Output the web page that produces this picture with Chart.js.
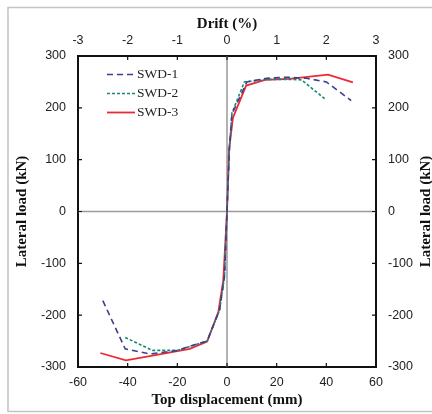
<!DOCTYPE html>
<html>
<head>
<meta charset="utf-8">
<script src="https://cdn.jsdelivr.net/npm/chart.js@4/dist/chart.umd.min.js"></script>
<style>
  html, body { margin: 0; padding: 0; background: #fff; }
  #wrap { width: 432px; height: 414px; }
</style>
</head>
<body>
<div id="wrap"><canvas id="hyst" width="432" height="414"></canvas></div>
<script>
// backbone curves (mm, kN)
const swd1Disp = [-50, -41, -31, -20, -11, -8, -3, -1, 0, 1, 2, 8, 16, 24, 32, 40, 50];
const swd1Load = [-172, -265, -275, -268, -254, -250, -190, -125, 0, 125, 188, 250, 257, 259, 257, 250, 214];

const swd2Disp = [-41, -30, -20, -8, -3, -1, 0, 1, 2, 7, 16, 24, 30, 40];
const swd2Load = [-243, -268, -268, -250, -190, -125, 0, 125, 190, 250, 255, 255, 254, 215];

const swd3Disp = [-51, -40.7, -30, -15, -8, -3.5, -1.5, 0, 0.8, 2.4, 7.7, 15.3, 25, 40.7, 50.7];
const swd3Load = [-273, -287, -278, -265, -251, -194, -133, 0, 118, 181, 243, 254, 256, 264, 249];

const dispTicks = [-60, -40, -20, 0, 20, 40, 60];
const driftTicks = [-3, -2, -1, 0, 1, 2, 3];
const loadTicks = [-300, -200, -100, 0, 100, 200, 300];

function pts(xs, ys) {
    return xs.map((x, i) => ({ x: x, y: ys[i] }));
}

const serifBold = { family: "'Liberation Serif', 'Times New Roman', serif", size: 15, weight: "bold" };
const tickFont = { family: "'Liberation Sans', Arial, sans-serif", size: 12.5 };

// inward ticks, zero lines, legend, right title, outer frame
const decorations = {
    id: "decorations",
    beforeDatasetsDraw(chart) {
        const { ctx, chartArea: a, scales } = chart;
        ctx.save();
        ctx.strokeStyle = "#9a9a9a";
        ctx.lineWidth = 1.5;
        const x0 = scales.x.getPixelForValue(0);
        const y0 = scales.y.getPixelForValue(0);
        ctx.beginPath();
        ctx.moveTo(x0, a.top); ctx.lineTo(x0, a.bottom);
        ctx.moveTo(a.left, y0); ctx.lineTo(a.right, y0);
        ctx.stroke();
        ctx.restore();
    },
    afterDraw(chart) {
        const { ctx, chartArea: a, scales } = chart;
        ctx.save();
        ctx.strokeStyle = "#111";
        ctx.lineWidth = 1.2;
        ctx.beginPath();
        const len = 4;
        scales.x.ticks.forEach(t => {
            const px = scales.x.getPixelForValue(t.value);
            ctx.moveTo(px, a.bottom); ctx.lineTo(px, a.bottom - len);
        });
        scales.x2.ticks.forEach(t => {
            const px = scales.x2.getPixelForValue(t.value);
            ctx.moveTo(px, a.top); ctx.lineTo(px, a.top + len);
        });
        scales.y.ticks.forEach(t => {
            const py = scales.y.getPixelForValue(t.value);
            ctx.moveTo(a.left, py); ctx.lineTo(a.left + len, py);
        });
        scales.y2.ticks.forEach(t => {
            const py = scales.y2.getPixelForValue(t.value);
            ctx.moveTo(a.right, py); ctx.lineTo(a.right - len, py);
        });
        ctx.stroke();

        // legend
        ctx.font = "13.5px 'Liberation Serif', 'Times New Roman', serif";
        ctx.textBaseline = "middle";
        ctx.fillStyle = "#222";
        chart.data.datasets.forEach((ds, i) => {
            const yy = a.top + 18.5 + i * 19;
            ctx.strokeStyle = ds.borderColor;
            ctx.lineWidth = ds.borderWidth;
            ctx.setLineDash(ds.borderDash || []);
            ctx.beginPath();
            ctx.moveTo(a.left + 29, yy); ctx.lineTo(a.left + 57, yy);
            ctx.stroke();
            ctx.setLineDash([]);
            ctx.fillText(ds.label, a.left + 59, yy);
        });

        // right-hand axis title, reads bottom to top
        ctx.save();
        ctx.translate(426, (a.top + a.bottom) / 2);
        ctx.rotate(-Math.PI / 2);
        ctx.font = "bold 15px 'Liberation Serif', 'Times New Roman', serif";
        ctx.textAlign = "center";
        ctx.textBaseline = "middle";
        ctx.fillStyle = "#111";
        ctx.fillText("Lateral load (kN)", 0, 0);
        ctx.restore();

        // light outer frame (open on the right, as in the source)
        ctx.strokeStyle = "#c4c4c4";
        ctx.lineWidth = 1.5;
        ctx.beginPath();
        ctx.moveTo(432, 7.5); ctx.lineTo(8, 7.5); ctx.lineTo(8, 411.5); ctx.lineTo(432, 411.5);
        ctx.stroke();
        ctx.restore();
    }
};

new Chart(document.getElementById("hyst"), {
    type: "line",
    data: {
        datasets: [
            { label: "SWD-1", data: pts(swd1Disp, swd1Load), borderColor: "#3d3f8c", borderWidth: 1.6, borderDash: [6, 4] },
            { label: "SWD-2", data: pts(swd2Disp, swd2Load), borderColor: "#17877a", borderWidth: 1.6, borderDash: [3, 2] },
            { label: "SWD-3", data: pts(swd3Disp, swd3Load), borderColor: "#ec2a33", borderWidth: 1.8 }
        ]
    },
    options: {
        responsive: false,
        animation: false,
        layout: { padding: 0 },
        elements: { point: { radius: 0 }, line: { tension: 0 } },
        plugins: { legend: { display: false }, tooltip: { enabled: false } },
        scales: {
            x: {
                type: "linear", position: "bottom", min: -60, max: 60,
                afterBuildTicks: s => { s.ticks = dispTicks.map(v => ({ value: v })); },
                afterFit: s => { s.height = 47; },
                grid: { display: false, drawTicks: false },
                border: { display: true, color: "#111", width: 2 },
                ticks: { font: tickFont, color: "#222", padding: 8, maxRotation: 0 },
                title: { display: true, text: "Top displacement (mm)", font: serifBold, color: "#111", padding: { top: 0, bottom: 5 } }
            },
            x2: {
                type: "linear", position: "top", min: -3, max: 3,
                afterBuildTicks: s => { s.ticks = driftTicks.map(v => ({ value: v })); },
                afterFit: s => { s.height = 56; },
                grid: { display: false, drawTicks: false },
                border: { display: true, color: "#111", width: 2 },
                ticks: { font: tickFont, color: "#222", padding: 8, maxRotation: 0 },
                title: { display: true, text: "Drift (%)", font: serifBold, color: "#111", padding: { top: 15, bottom: 0 } }
            },
            y: {
                type: "linear", position: "left", min: -300, max: 300,
                afterBuildTicks: s => { s.ticks = loadTicks.map(v => ({ value: v })); },
                afterFit: s => { s.width = 78; },
                grid: { display: false, drawTicks: false },
                border: { display: true, color: "#111", width: 2 },
                ticks: { font: tickFont, color: "#222", padding: 12 },
                title: { display: true, text: "Lateral load (kN)", font: serifBold, color: "#111", padding: { top: 13, bottom: 0 } }
            },
            y2: {
                type: "linear", position: "right", min: -300, max: 300,
                afterBuildTicks: s => { s.ticks = loadTicks.map(v => ({ value: v })); },
                afterFit: s => { s.width = 56; },
                grid: { display: false, drawTicks: false },
                border: { display: true, color: "#111", width: 2 },
                ticks: { font: tickFont, color: "#222", padding: 12 },
                title: { display: false }
            }
        }
    },
    plugins: [decorations]
});
</script>
</body>
</html>
